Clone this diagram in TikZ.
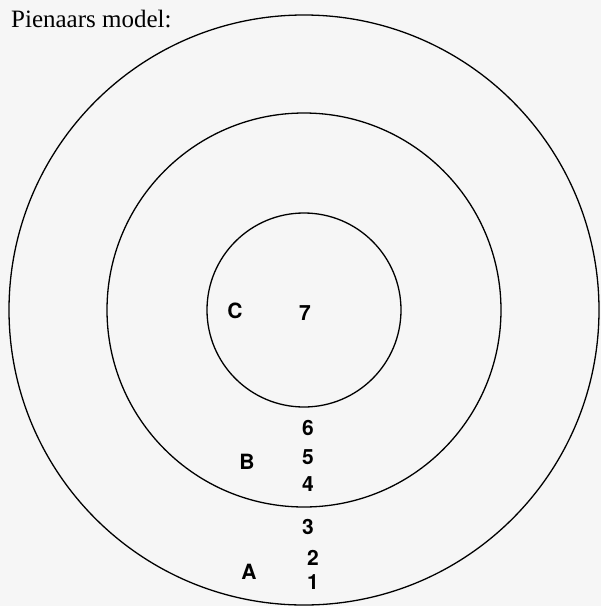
\documentclass[tikz,border=0pt]{standalone}
\usepackage{fontspec}
\setmainfont{Liberation Serif}
\newfontfamily\zonefont{TeX Gyre Heros}
\definecolor{paper}{RGB}{246,246,246}
\tikzset{
  ring/.style={draw=black,line width=1.3pt,circle,inner sep=0pt},
  zone/.style={font=\zonefont\bfseries\fontsize{21}{21}\selectfont,inner sep=0pt},
  title/.style={font=\fontsize{25}{25}\selectfont,inner sep=0pt,anchor=base west},
}
\begin{document}
\begin{tikzpicture}[x=1pt,y=-1pt]
    \fill[paper] (0,0) rectangle (601,606);
    \useasboundingbox (0,0) rectangle (601,606);
    \node[title] (head) at (11,27) {Pienaars model:};
    % three rings round one centre
    \coordinate (mid) at (304,310);
    \node[ring,minimum size=590pt] (outer) at (mid) {};
    \node[ring,minimum size=394pt] (middle) at (mid) {};
    \node[ring,minimum size=194pt] (inner) at (mid) {};
    % zone letters
    \node[zone] (zc) at (235,311) {C};
    \node[zone] (zb) at (247,462) {B};
    \node[zone] (za) at (249,572) {A};
    % numbered levels
    \node[zone] (n7) at (305,313) {7};
    \node[zone] (n6) at (308,428) {6};
    \node[zone] (n5) at (308,457) {5};
    \node[zone] (n4) at (308,484) {4};
    \node[zone] (n3) at (308,527) {3};
    \node[zone] (n2) at (313,558) {2};
    \node[zone] (n1) at (313,582) {1};
  \end{tikzpicture}
\end{document}
